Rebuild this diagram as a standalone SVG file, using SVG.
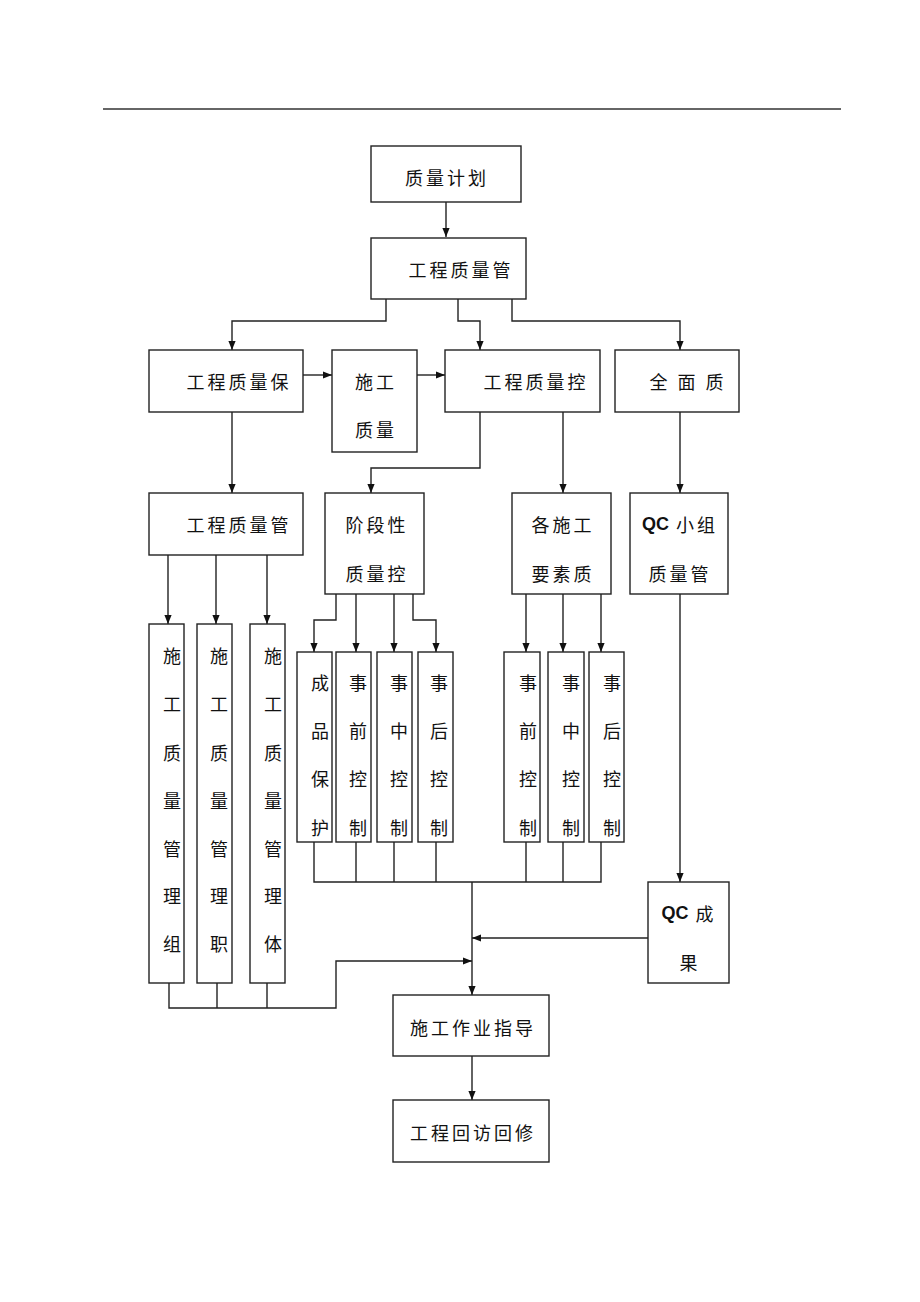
<svg xmlns="http://www.w3.org/2000/svg" width="920" height="1302" viewBox="0 0 920 1302">
<style>
.b{fill:#fff;stroke:#222;stroke-width:1.4}
.c{fill:none;stroke:#222;stroke-width:1.4}
.t{font-family:"Noto Sans CJK SC","Noto Sans",sans-serif;font-size:18px;fill:#111;text-anchor:middle;dominant-baseline:central;letter-spacing:3px}
.v{font-family:"Noto Sans CJK SC","Noto Sans",sans-serif;font-size:18px;fill:#111;text-anchor:middle;dominant-baseline:central}
.q{font-family:"Liberation Sans Narrow","Liberation Sans","Noto Sans CJK SC",sans-serif;font-weight:bold;letter-spacing:0}
</style>
<defs>
<marker id="ah" viewBox="0 0 10 10" refX="10" refY="5" markerWidth="9" markerHeight="9" markerUnits="userSpaceOnUse" orient="auto"><path d="M0,1 L10,5 L0,9 z" fill="#111"/></marker>
</defs>
<rect width="920" height="1302" fill="#fff"/>
<path d="M103,109 H841" stroke="#333" stroke-width="1.5"/>

<g id="connectors" class="c">
<path d="M446,202 V237" marker-end="url(#ah)"/>
<path d="M386,299 V321 H232 V350" marker-end="url(#ah)"/>
<path d="M458,299 V321 H480 V350" marker-end="url(#ah)"/>
<path d="M512,299 V321 H680 V350" marker-end="url(#ah)"/>
<path d="M303,375 H332" marker-end="url(#ah)"/>
<path d="M417,375 H445" marker-end="url(#ah)"/>
<path d="M232,412 V493" marker-end="url(#ah)"/>
<path d="M480,412 V468 H371 V493" marker-end="url(#ah)"/>
<path d="M563,412 V493" marker-end="url(#ah)"/>
<path d="M680,412 V493" marker-end="url(#ah)"/>
<path d="M168,555 V624" marker-end="url(#ah)"/>
<path d="M216,555 V624" marker-end="url(#ah)"/>
<path d="M267,555 V624" marker-end="url(#ah)"/>
<path d="M336,594 V620 H314 V652" marker-end="url(#ah)"/>
<path d="M356,594 V652" marker-end="url(#ah)"/>
<path d="M394,594 V652" marker-end="url(#ah)"/>
<path d="M413,594 V620 H436 V652" marker-end="url(#ah)"/>
<path d="M526,594 V652" marker-end="url(#ah)"/>
<path d="M563,594 V652" marker-end="url(#ah)"/>
<path d="M601,594 V652" marker-end="url(#ah)"/>
<path d="M680,594 V882" marker-end="url(#ah)"/>
<path d="M314,842 V882 H601 V842 M356,842 V882 M394,842 V882 M436,842 V882 M526,842 V882 M563,842 V882"/>
<path d="M472,882 V995" marker-end="url(#ah)"/>
<path d="M169,983 V1008 H336 V961 H472" marker-end="url(#ah)"/>
<path d="M217,983 V1008 M267,983 V1008"/>
<path d="M648,938 H472" marker-end="url(#ah)"/>
<path d="M472,1056 V1100" marker-end="url(#ah)"/>
</g>

<g id="n_plan"><rect class="b" x="371" y="146" width="150" height="56"/><text class="t" x="447" y="177">质量计划</text></g>
<g id="n_mgmt"><rect class="b" x="371" y="238" width="155" height="61"/><text class="t" x="461" y="269">工程质量管</text></g>
<g id="n_assure"><rect class="b" x="149" y="350" width="154" height="62"/><text class="t" x="239" y="381">工程质量保</text></g>
<g id="n_sgzl"><rect class="b" x="332" y="350" width="85" height="102"/><text class="t" x="376" y="381">施工</text><text class="t" x="376" y="429">质量</text></g>
<g id="n_control"><rect class="b" x="445" y="350" width="155" height="62"/><text class="t" x="536" y="381">工程质量控</text></g>
<g id="n_tqc"><rect class="b" x="615" y="350" width="124" height="62"/><text class="t" x="688" y="381" xml:space="preserve">全 面 质</text></g>
<g id="n_mgmt2"><rect class="b" x="149" y="493" width="154" height="62"/><text class="t" x="239" y="524">工程质量管</text></g>
<g id="n_stage"><rect class="b" x="325" y="493" width="99" height="101"/><text class="t" x="377" y="524">阶段性</text><text class="t" x="377" y="573">质量控</text></g>
<g id="n_factor"><rect class="b" x="512" y="493" width="99" height="101"/><text class="t" x="563" y="524">各施工</text><text class="t" x="563" y="573">要素质</text></g>
<g id="n_qcgroup"><rect class="b" x="630" y="493" width="98" height="101"/><text class="t" x="680" y="524" xml:space="preserve"><tspan class="q">QC</tspan> 小组</text><text class="t" x="680" y="573">质量管</text></g>

<g id="n_col1"><rect class="b" x="149" y="624" width="35" height="359"/>
<text class="v" x="172" y="655">施</text><text class="v" x="172" y="703">工</text><text class="v" x="172" y="752">质</text><text class="v" x="172" y="800">量</text><text class="v" x="172" y="848">管</text><text class="v" x="172" y="895">理</text><text class="v" x="172" y="943">组</text></g>
<g id="n_col2"><rect class="b" x="197" y="624" width="35" height="359"/>
<text class="v" x="219" y="655">施</text><text class="v" x="219" y="703">工</text><text class="v" x="219" y="752">质</text><text class="v" x="219" y="800">量</text><text class="v" x="219" y="848">管</text><text class="v" x="219" y="895">理</text><text class="v" x="219" y="943">职</text></g>
<g id="n_col3"><rect class="b" x="250" y="624" width="35" height="359"/>
<text class="v" x="273" y="655">施</text><text class="v" x="273" y="703">工</text><text class="v" x="273" y="752">质</text><text class="v" x="273" y="800">量</text><text class="v" x="273" y="848">管</text><text class="v" x="273" y="895">理</text><text class="v" x="273" y="943">体</text></g>

<g id="n_cpbh"><rect class="b" x="297" y="652" width="35" height="190"/>
<text class="v" x="320" y="682">成</text><text class="v" x="320" y="730">品</text><text class="v" x="320" y="778">保</text><text class="v" x="320" y="827">护</text></g>
<g id="n_sq1"><rect class="b" x="336" y="652" width="35" height="190"/>
<text class="v" x="358" y="682">事</text><text class="v" x="358" y="730">前</text><text class="v" x="358" y="778">控</text><text class="v" x="358" y="827">制</text></g>
<g id="n_sz1"><rect class="b" x="377" y="652" width="35" height="190"/>
<text class="v" x="399" y="682">事</text><text class="v" x="399" y="730">中</text><text class="v" x="399" y="778">控</text><text class="v" x="399" y="827">制</text></g>
<g id="n_sh1"><rect class="b" x="418" y="652" width="35" height="190"/>
<text class="v" x="439" y="682">事</text><text class="v" x="439" y="730">后</text><text class="v" x="439" y="778">控</text><text class="v" x="439" y="827">制</text></g>
<g id="n_sq2"><rect class="b" x="504" y="652" width="36" height="190"/>
<text class="v" x="528" y="682">事</text><text class="v" x="528" y="730">前</text><text class="v" x="528" y="778">控</text><text class="v" x="528" y="827">制</text></g>
<g id="n_sz2"><rect class="b" x="548" y="652" width="36" height="190"/>
<text class="v" x="571" y="682">事</text><text class="v" x="571" y="730">中</text><text class="v" x="571" y="778">控</text><text class="v" x="571" y="827">制</text></g>
<g id="n_sh2"><rect class="b" x="589" y="652" width="35" height="190"/>
<text class="v" x="612" y="682">事</text><text class="v" x="612" y="730">后</text><text class="v" x="612" y="778">控</text><text class="v" x="612" y="827">制</text></g>

<g id="n_qcresult"><rect class="b" x="648" y="882" width="81" height="101"/><text class="t" x="689" y="913" xml:space="preserve"><tspan class="q">QC</tspan> 成</text><text class="t" x="690" y="962">果</text></g>
<g id="n_guide"><rect class="b" x="393" y="995" width="156" height="61"/><text class="t" x="473" y="1027">施工作业指导</text></g>
<g id="n_revisit"><rect class="b" x="393" y="1100" width="156" height="62"/><text class="t" x="473" y="1132">工程回访回修</text></g>
</svg>
